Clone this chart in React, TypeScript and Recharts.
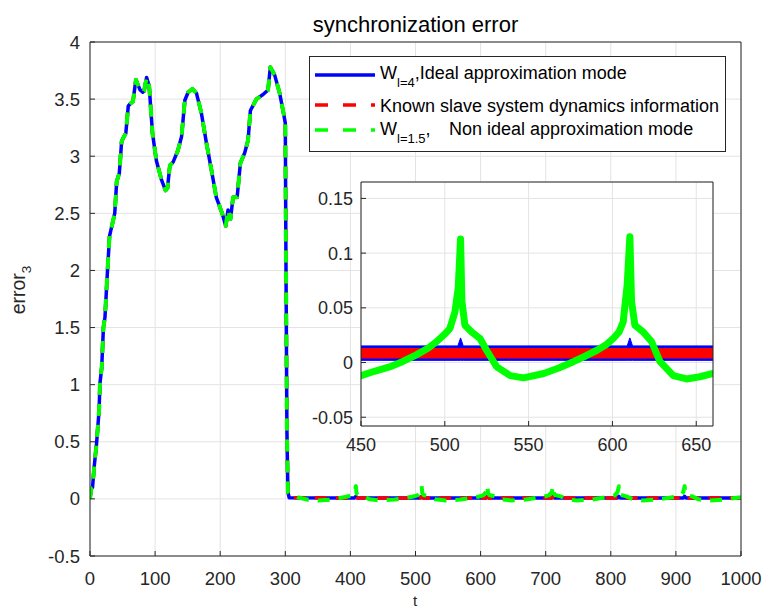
import React from 'react';
import { ComposedChart, Line, Area, XAxis, YAxis, CartesianGrid } from 'recharts';

const FONT = '"Liberation Sans", Arial, Helvetica, sans-serif';
const AXIS = '#262626';
const GRID = '#e3e3e3';
const BLUE = '#0000ff';
const RED = '#ff0000';
const GREEN = '#00ff00';

// ---------- main plot data ----------
// shared transient part (all three curves coincide for t <= 304)
const rampT = [0, 1.9, 3.9, 6.4, 10, 13.9, 15.3, 18, 20.6, 23, 26.6, 30, 32, 36, 38, 41, 45, 48.6, 52, 55, 58.8, 62, 66, 70.5, 74, 77, 81, 83, 87, 91, 96, 102, 110, 116, 119, 122.7, 127.8, 135, 140.6, 145.7, 150.8, 157.4, 163.6, 171, 179, 186.5, 194, 203, 208.6, 212, 215.8, 219.8, 226, 231, 237.7, 242.8, 246.4, 255.6, 265.8, 273.5, 277, 283.7, 291.4, 297.5, 300, 301, 302.5, 304];
const rampV = [0.0, 0.09, 0.1, 0.28, 0.48, 0.77, 1.01, 1.15, 1.5, 1.59, 1.97, 2.3, 2.35, 2.45, 2.5, 2.78, 2.85, 3.13, 3.17, 3.2, 3.44, 3.46, 3.48, 3.67, 3.62, 3.58, 3.56, 3.57, 3.69, 3.61, 3.2, 2.96, 2.79, 2.7, 2.72, 2.92, 2.95, 3.05, 3.17, 3.49, 3.56, 3.59, 3.55, 3.38, 3.11, 2.88, 2.64, 2.5, 2.39, 2.53, 2.45, 2.64, 2.64, 2.94, 3.03, 3.14, 3.4, 3.5, 3.54, 3.58, 3.78, 3.71, 3.55, 3.37, 3.29, 2.1, 0.6, 0.06];

// steady-state tails
const blueTailT = [306, 406.4, 408.4, 410.4, 507.4, 509.4, 511.4, 608.4, 610.4, 612.4, 709.4, 711.4, 713.4, 810.4, 812.4, 814.4, 911.4, 913.4, 915.4, 1000];
const blueTailV = [0.01, 0.008, 0.022, 0.008, 0.008, 0.022, 0.008, 0.008, 0.022, 0.008, 0.008, 0.022, 0.008, 0.008, 0.022, 0.008, 0.008, 0.022, 0.008, 0.008];
const redTailT = [306, 406.4, 408.4, 410.4, 507.4, 509.4, 511.4, 608.4, 610.4, 612.4, 709.4, 711.4, 713.4, 810.4, 812.4, 814.4, 911.4, 913.4, 915.4, 1000];
const redTailV = [0.01, 0.008, 0.018, 0.008, 0.008, 0.018, 0.008, 0.008, 0.018, 0.008, 0.008, 0.018, 0.008, 0.008, 0.018, 0.008, 0.008, 0.018, 0.008, 0.008];
const greenTailT = [306, 310, 320, 335, 350, 372, 394, 402, 406.4, 408.4, 409.4, 411.4, 420, 430, 445, 468, 495, 503, 507.4, 509.4, 510.4, 512.4, 521, 531, 546, 569, 596, 604, 608.4, 610.4, 611.4, 613.4, 622, 632, 647, 670, 697, 705, 709.4, 711.4, 712.4, 714.4, 723, 733, 748, 771, 798, 806, 810.4, 812.4, 813.4, 815.4, 824, 834, 849, 872, 899, 907, 911.4, 913.4, 914.4, 916.4, 925, 935, 950, 973, 1000];
const greenTailV = [0.05, 0.04, 0.012, -0.008, -0.014, -0.006, 0.019, 0.031, 0.06, 0.112, 0.05, 0.034, 0.022, -0.004, -0.014, -0.006, 0.019, 0.031, 0.06, 0.113, 0.05, 0.034, 0.022, -0.004, -0.014, -0.006, 0.019, 0.031, 0.06, 0.115, 0.05, 0.034, 0.022, -0.004, -0.014, -0.006, 0.019, 0.031, 0.06, 0.112, 0.05, 0.034, 0.022, -0.004, -0.014, -0.006, 0.019, 0.031, 0.06, 0.11, 0.05, 0.034, 0.022, -0.004, -0.014, -0.006, 0.019, 0.031, 0.06, 0.112, 0.05, 0.034, 0.022, -0.004, -0.014, -0.006, 0.015];

const mainXTicks = [0, 100, 200, 300, 400, 500, 600, 700, 800, 900, 1000];
const mainYTicks = [-0.5, 0, 0.5, 1, 1.5, 2, 2.5, 3, 3.5, 4];

// ---------- inset data ----------
const insetGreenT = [450, 458, 467, 475, 483, 490, 495, 500, 503, 506, 508, 509.4, 510.2, 512, 516, 521, 525, 531, 539, 547, 559, 568, 577, 584, 590.5, 596, 600.5, 604, 606.4, 608.8, 610.4, 611.4, 613.4, 618.4, 623.4, 628.3, 636.3, 644.2, 652.2, 660];
const insetGreenV = [-0.012, -0.008, -0.004, 0.001, 0.007, 0.013, 0.019, 0.026, 0.031, 0.046, 0.068, 0.113, 0.056, 0.034, 0.028, 0.022, 0.011, -0.004, -0.012, -0.014, -0.01, -0.005, 0.001, 0.006, 0.011, 0.016, 0.022, 0.028, 0.037, 0.071, 0.115, 0.056, 0.034, 0.028, 0.019, 0.001, -0.012, -0.015, -0.013, -0.01];
const insetBlueT = [450, 507.8, 509.4, 511, 608.8, 610.4, 612, 660];
const insetBlueLow = [0.002, 0.002, 0.002, 0.002, 0.002, 0.002, 0.002, 0.002];
const insetBlueHigh = [0.0152, 0.0152, 0.0225, 0.0152, 0.0152, 0.0225, 0.0152, 0.0152];
const insetRedT = [450, 660];
const insetRedLow = [0.0037, 0.0037];
const insetRedHigh = [0.0134, 0.0134];

const insetXTicks = [450, 500, 550, 600, 650];
const insetYTicks = [-0.05, 0, 0.05, 0.1, 0.15];

type P = { t: number; v: number };
const zip = (t: number[], v: number[]): P[] => t.map((x, i) => ({ t: x, v: v[i] }));
const band = (t: number[], lo: number[], hi: number[]) => t.map((x, i) => ({ t: x, r: [lo[i], hi[i]] }));

const blueMain = zip([...rampT, ...blueTailT], [...rampV, ...blueTailV]);
const redMain = zip([...rampT, ...redTailT], [...rampV, ...redTailV]);
const greenMain = zip([...rampT, ...greenTailT], [...rampV, ...greenTailV]);

const greenInset = zip(insetGreenT, insetGreenV);
const blueInset = band(insetBlueT, insetBlueLow, insetBlueHigh);
const redInset = band(insetRedT, insetRedLow, insetRedHigh);

const tickStyle = (size: number) => ({ fill: AXIS, fontSize: size, fontFamily: FONT });

function MainChart() {
  return (
    <ComposedChart width={764} height={608} margin={{ top: 41, right: 22, bottom: 22, left: 0 }}>
      <CartesianGrid xAxisId="b" yAxisId="l" stroke={GRID} strokeWidth={1} />
      <XAxis xAxisId="b" dataKey="t" type="number" domain={[0, 1000]} ticks={mainXTicks} allowDataOverflow interval={0}
        height={30} tickSize={-5} tickMargin={21} tick={tickStyle(18.5)}
        axisLine={{ stroke: AXIS }} tickLine={{ stroke: AXIS }} stroke={AXIS} />
      <XAxis xAxisId="t" orientation="top" dataKey="t" type="number" domain={[0, 1000]} ticks={mainXTicks} allowDataOverflow interval={0}
        height={1} tickSize={-5} tick={false} axisLine={{ stroke: AXIS }} tickLine={{ stroke: AXIS }} stroke={AXIS} />
      <YAxis yAxisId="l" type="number" domain={[-0.5, 4]} ticks={mainYTicks} allowDataOverflow interval={0}
        width={90} tickSize={-5} tickMargin={15} tick={tickStyle(18.5)}
        axisLine={{ stroke: AXIS }} tickLine={{ stroke: AXIS }} stroke={AXIS} />
      <YAxis yAxisId="r" orientation="right" type="number" domain={[-0.5, 4]} ticks={mainYTicks} allowDataOverflow interval={0}
        width={1} tickSize={-5} tick={false} axisLine={{ stroke: AXIS }} tickLine={{ stroke: AXIS }} stroke={AXIS} />
      <Line data={blueMain} dataKey="v" xAxisId="b" yAxisId="l" type="linear" dot={false} activeDot={false}
        stroke={BLUE} strokeWidth={3.5} isAnimationActive={false} strokeLinejoin="round" />
      <Line data={redMain} dataKey="v" xAxisId="b" yAxisId="l" type="linear" dot={false} activeDot={false}
        stroke={RED} strokeWidth={3.5} strokeDasharray="12 9" isAnimationActive={false} strokeLinejoin="round" />
      <Line data={greenMain} dataKey="v" xAxisId="b" yAxisId="l" type="linear" dot={false} activeDot={false}
        stroke={GREEN} strokeWidth={4} strokeDasharray="12 9" isAnimationActive={false} strokeLinejoin="round" />
    </ComposedChart>
  );
}

function InsetChart() {
  return (
    <ComposedChart width={440} height={290} margin={{ top: 11, right: 16, bottom: 4, left: 0 }}>
      <CartesianGrid xAxisId="ib" yAxisId="il" stroke={GRID} strokeWidth={1} fill="#ffffff" fillOpacity={1} />
      <XAxis xAxisId="ib" dataKey="t" type="number" domain={[450, 660]} ticks={insetXTicks} allowDataOverflow interval={0}
        height={30} tickSize={-5} tickMargin={17} tick={tickStyle(18)}
        axisLine={{ stroke: AXIS }} tickLine={{ stroke: AXIS }} stroke={AXIS} />
      <XAxis xAxisId="it" orientation="top" dataKey="t" type="number" domain={[450, 660]} ticks={insetXTicks} allowDataOverflow interval={0}
        height={1} tickSize={-5} tick={false} axisLine={{ stroke: AXIS }} tickLine={{ stroke: AXIS }} stroke={AXIS} />
      <YAxis yAxisId="il" type="number" domain={[-0.058, 0.165]} ticks={insetYTicks} allowDataOverflow interval={0}
        width={71} tickSize={-5} tickMargin={13} tick={tickStyle(18)}
        axisLine={{ stroke: AXIS }} tickLine={{ stroke: AXIS }} stroke={AXIS} />
      <YAxis yAxisId="ir" orientation="right" type="number" domain={[-0.058, 0.165]} ticks={insetYTicks} allowDataOverflow interval={0}
        width={1} tickSize={-5} tick={false} axisLine={{ stroke: AXIS }} tickLine={{ stroke: AXIS }} stroke={AXIS} />
      <Area data={blueInset} dataKey="r" xAxisId="ib" yAxisId="il" type="linear" stroke={BLUE} strokeWidth={1}
        fill={BLUE} fillOpacity={1} dot={false} activeDot={false} isAnimationActive={false} />
      <Area data={redInset} dataKey="r" xAxisId="ib" yAxisId="il" type="linear" stroke="none"
        fill={RED} fillOpacity={1} dot={false} activeDot={false} isAnimationActive={false} />
      <Line data={greenInset} dataKey="v" xAxisId="ib" yAxisId="il" type="linear" dot={false} activeDot={false}
        stroke={GREEN} strokeWidth={7} isAnimationActive={false} strokeLinejoin="round" strokeLinecap="round" />
    </ComposedChart>
  );
}

function LegendBox() {
  return (
    <div style={{ position: 'absolute', left: 309, top: 56, width: 417, height: 96, boxSizing: 'border-box', border: `1px solid ${AXIS}`, background: '#fff' }}>
      <svg width={415} height={94} style={{ position: 'absolute', left: 0, top: 0 }}>
        <line x1={5} x2={65} y1={18} y2={18} stroke={BLUE} strokeWidth={3.5} />
        <line x1={5} x2={65} y1={48} y2={48} stroke={RED} strokeWidth={3.5} strokeDasharray="13 15" />
        <line x1={5} x2={65} y1={73} y2={73} stroke={GREEN} strokeWidth={3.5} strokeDasharray="13 15" />
        <text x={70} y={22.3} fontSize={18} fontFamily={FONT} fill="#000">
          W<tspan dy={8} fontSize={13}>l=4</tspan><tspan dy={-8}>,Ideal approximation mode</tspan>
        </text>
        <text x={70} y={54.7} fontSize={18} fontFamily={FONT} fill="#000">Known slave system dynamics information</text>
        <text x={70} y={78} fontSize={18} fontFamily={FONT} fill="#000">
          W<tspan dy={8} fontSize={13}>l=1.5</tspan><tspan dy={-8}>,</tspan><tspan x={139}>Non ideal approximation mode</tspan>
        </text>
      </svg>
    </div>
  );
}

function Labels() {
  return (
    <svg width={764} height={608} style={{ position: 'absolute', left: 0, top: 0, pointerEvents: 'none' }}>
      <text x={415.5} y={31.7} textAnchor="middle" fontSize={22} fontFamily={FONT} fill="#000">synchronization error</text>
      <text x={415} y={606} textAnchor="middle" fontSize={15} fontFamily={FONT} fill={AXIS}>t</text>
      <text x={25} y={290} transform="rotate(-90 25 290)" textAnchor="middle" fontSize={19.5} fontFamily={FONT} fill={AXIS}>
        error<tspan dy={6} fontSize={13.5}>3</tspan>
      </text>
    </svg>
  );
}

export default function App() {
  return (
    <div style={{ position: 'absolute', left: 0, top: 0, width: 764, height: 608, background: '#fff', overflow: 'hidden', fontFamily: FONT }}>
      <div style={{ position: 'absolute', left: 0, top: 0 }}>
        <MainChart />
      </div>
      <div style={{ position: 'absolute', left: 290, top: 170 }}>
        <InsetChart />
      </div>
      <LegendBox />
      <Labels />
    </div>
  );
}
